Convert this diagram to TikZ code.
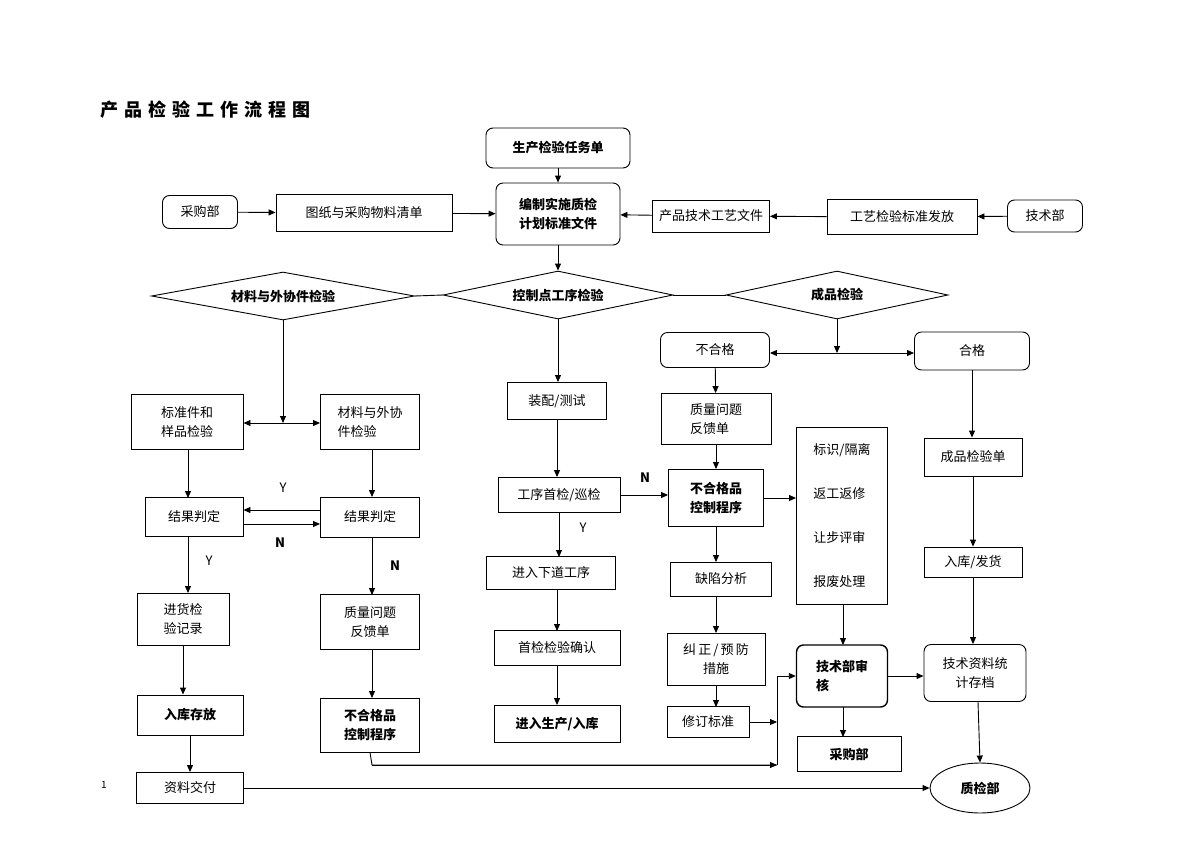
\documentclass[tikz,border=0pt]{standalone}
\usepackage{fontspec}
\setmainfont{Noto Sans CJK SC}
\usetikzlibrary{shapes.geometric,arrows.meta}
\begin{document}
\begin{tikzpicture}[x=1pt,y=-1pt,
  font=\fontsize{13}{19}\selectfont,
  every node/.style={inner sep=0pt},
  box/.style={draw,line width=0.9pt,align=center},
  rbox/.style={box,rounded corners=7pt},
  dia/.style={draw,line width=0.9pt,diamond,aspect=5.4,font=\fontsize{13}{16}\selectfont\bfseries},
  bf/.style={font=\fontsize{13}{19}\selectfont\bfseries},
  lab/.style={font=\fontsize{13}{16}\selectfont\bfseries},
  ar/.style={line width=0.9pt,-{Triangle[length=7pt,width=6pt]}},
  ln/.style={line width=0.9pt},
  da/.style={line width=0.9pt,{Triangle[length=7pt,width=6pt]}-{Triangle[length=7pt,width=6pt]}}]
\useasboundingbox (0,0) rectangle (1200,849);
\node[anchor=west,font=\fontsize{18}{20}\selectfont\bfseries] (title) at (100,110) {产\,\,品\,\,检\,\,验\,\,工\,\,作\,\,流\,\,程\,\,图};
\node[font=\fontsize{10}{12}\selectfont] (pg) at (104,785) {1};
% top
\node[rbox,minimum width=144,minimum height=40,bf] (sc) at (558,148) {生产检验任务单};
\node[rbox,minimum width=124,minimum height=62,bf,align=left] (bz) at (558,214) {编制实施质检\\计划标准文件};
\node[rbox,minimum width=75,minimum height=33] (cgb) at (200,212) {采购部};
\node[box,minimum width=176,minimum height=37] (tz) at (364,213) {图纸与采购物料清单};
\node[box,minimum width=117,minimum height=32] (cp) at (711,216) {产品技术工艺文件};
\node[box,minimum width=150,minimum height=35] (gy) at (902,217) {工艺检验标准发放};
\node[rbox,minimum width=75,minimum height=32] (js) at (1045,216) {技术部};
\draw[ar] (sc) -- (bz);
\draw[ar] (cgb) -- (tz);
\draw[ar] (tz) -- (bz);
\draw[ar] (js) -- (gy);
\draw[ar] (gy) -- (cp);
\draw[ar] (cp) -- (bz);
% diamonds
\node[dia,minimum width=263,minimum height=48] (d1) at (283,296) {材料与外协件检验};
\node[dia,minimum width=230,minimum height=48] (d2) at (558,295) {控制点工序检验};
\node[dia,minimum width=222,minimum height=48] (d3) at (837,295) {成品检验};
\draw[ar] (bz) -- (d2);
\draw[ln] (d1.east) -- (d2.west);
\draw[ln] (d2.east) -- (d3.west);
% left column
\node[box,minimum width=112,minimum height=55,align=left] (bzj) at (187,422) {标准件和\\样品检验};
\node[box,minimum width=99,minimum height=55,align=left] (cl) at (370,422) {材料与外协\\件检验};
\coordinate (m1) at (283,423);
\draw[ar] (d1.south) -- (m1);
\draw[da] (bzj.east |- m1) -- (cl.west |- m1);
\node[box,minimum width=98,minimum height=39] (jg1) at (194,517) {结果判定};
\node[box,minimum width=99,minimum height=40] (jg2) at (370,517) {结果判定};
\draw[ar] (188,450) -- (188,498);
\draw[ar] (372,450) -- (372,497);
\draw[ar] (jg2.west |- 0,510) -- (jg1.east |- 0,510);
\draw[ar] (jg1.east |- 0,524) -- (jg2.west |- 0,524);
\node (ly1) at (283,488) {Y};
\node[lab] (ln1) at (280,543) {N};
\node[box,minimum width=92,minimum height=52] (jh) at (183,619) {进货检\\验记录};
\draw[ar] (188,537) -- (188,593);
\node (ly2) at (209,561) {Y};
\node[box,minimum width=106,minimum height=40,bf] (rk) at (190,715) {入库存放};
\node[box,minimum width=107,minimum height=31] (zl) at (190,788) {资料交付};
\draw[ar] (jh) -- (jh |- rk.north);
\draw[ar] (rk) -- (zl);
\node[box,minimum width=99,minimum height=55] (zw1) at (370,622) {质量问题\\反馈单};
\draw[ar] (372,537) -- (372,595);
\node[lab] (ln2) at (395,566) {N};
\node[box,minimum width=99,minimum height=54,bf,align=left] (bh1) at (370,725) {不合格品\\控制程序};
\draw[ar] (372,650) -- (372,698);
% middle column
\node[box,minimum width=99,minimum height=37] (zp) at (557,401) {装配/测试};
\draw[ar] (d2.south) -- (d2.south |- zp.north);
\node[box,minimum width=122,minimum height=35] (gx) at (559,495) {工序首检/巡检};
\draw[ar] (zp) -- (zp |- gx.north);
\node[box,minimum width=129,minimum height=33] (jr) at (551,573) {进入下道工序};
\draw[ar] (559,513) -- (559,557);
\node (ly3) at (583,528) {Y};
\node[box,minimum width=126,minimum height=35] (sj) at (557,648) {首检检验确认};
\draw[ar] (557,590) -- (557,631);
\node[box,minimum width=126,minimum height=37,bf] (jrsc) at (557,724) {进入生产/入库};
\draw[ar] (sj) -- (jrsc);
% right-middle
\node[rbox,minimum width=109,minimum height=35] (bhg) at (715,350) {不合格};
\node[rbox,minimum width=115,minimum height=38] (hg) at (972,351) {合格};
\coordinate (m2) at (837,353);
\draw[ar] (d3.south) -- (m2);
\draw[da] (bhg.east |- m2) -- (hg.west |- m2);
\node[box,minimum width=110,minimum height=51,align=left] (zw2) at (716,419) {质量问题\\反馈单};
\draw[ar] (bhg) -- (zw2);
\node[box,minimum width=95,minimum height=57,bf,align=left] (bh2) at (716,498) {不合格品\\控制程序};
\draw[ar] (zw2) -- (bh2);
\draw[ar] (gx.east) -- (bh2.west |- gx.east);
\node[lab] (ln3) at (645,478) {N};
\node[box,minimum width=101,minimum height=34] (qx) at (721,579) {缺陷分析};
\draw[ar] (716,527) -- (716,562);
\node[box,minimum width=98,minimum height=52] (jz) at (716,659) {纠\,正\,/\,预\,防\\措施};
\draw[ar] (716,596) -- (716,633);
\node[box,minimum width=82,minimum height=31] (xd) at (708,722) {修订标准};
\draw[ar] (716,685) -- (716,707);
\node[box,minimum width=91,minimum height=177,align=left,font=\fontsize{13}{44}\selectfont] (bs) at (842,516) {标识/隔离\\返工返修\\让步评审\\报废处理};
\draw[ar] (bh2.east) -- (bs.west |- bh2.east);
\node[rbox,minimum width=91,minimum height=62,line width=1.4pt,bf,align=left] (jsb) at (842,676) {技术部审\\核\hphantom{部审}};
\draw[ar] (bs.south -| 843,0) -- (843,645);
\node[box,minimum width=104,minimum height=35,bf] (cg2) at (849,754) {采购部};
\draw[ar] (843,707) -- (843,737);
\coordinate (v1) at (777,676);
\coordinate (v2) at (777,722);
\coordinate (v3) at (777,765);
\draw[ln] (bh1.south) -- (372,765) -- (v3);
\draw[ar] (372,765) -- (v3);
\draw[ar] (xd.east) -- (v2);
\draw[ln] (v3) -- (v1);
\draw[ar] (v1) -- (jsb.west);
% right column
\node[box,minimum width=98,minimum height=38] (cpj) at (973,457) {成品检验单};
\draw[ar] (hg) -- (hg |- cpj.north);
\node[box,minimum width=98,minimum height=30] (rkf) at (973,562) {入库/发货};
\draw[ar] (cpj) -- (rkf);
\node[rbox,minimum width=102,minimum height=57] (jszl) at (975,673) {技术资料统\\计存档};
\draw[ar] (rkf) -- (rkf |- jszl.north);
\draw[ar] (jsb.east |- 0,676) -- (jszl.west |- 0,676);
\node[draw,ellipse,line width=0.9pt,minimum width=100,minimum height=50,bf] (zjb) at (980,788) {质检部};
\draw[ar] (978,702) -- (zjb.north);
\draw[ar] (zl.east) -- (zjb.west);
\end{tikzpicture}
\end{document}
